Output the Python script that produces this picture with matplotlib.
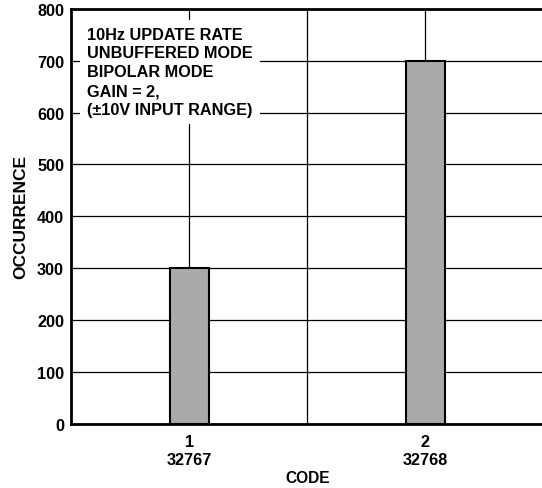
import matplotlib
matplotlib.use("Agg")
import matplotlib.pyplot as plt

# histogram of codes
codes = [1, 2]
code_labels = ["1\n32767", "2\n32768"]
occurrence = [300, 700]
y_ticks = [0, 100, 200, 300, 400, 500, 600, 700, 800]
note_lines = ["10Hz UPDATE RATE", "UNBUFFERED MODE", "BIPOLAR MODE",
              "GAIN = 2,", "(\u00b110V INPUT RANGE)"]

plt.rcParams['font.family'] = ['Liberation Sans', 'DejaVu Sans']
plt.rcParams['font.weight'] = 'bold'
plt.rcParams['font.size'] = 11.7

fig = plt.figure(figsize=(5.42, 4.89), dpi=100)
ax = fig.add_axes([0.131, 0.131, 0.872, 0.849])

ax.bar(codes, occurrence, width=0.165, color='#aaaaaa', edgecolor='black',
       linewidth=1.5, zorder=3)

ax.set_xlim(0.5, 2.5)
ax.set_ylim(0, 800)
ax.set_yticks(y_ticks)
ax.set_xticks(codes)
ax.set_xticklabels(code_labels, linespacing=1.3)
ax.set_xticks([1.5], minor=True)
ax.tick_params(axis='both', which='both', length=0)
ax.tick_params(axis='y', pad=5)
ax.tick_params(axis='x', pad=7)

ax.grid(True, which='both', color='black', linewidth=0.9, zorder=1)
ax.set_axisbelow(True)

for side in ['left', 'bottom', 'top']:
    ax.spines[side].set_linewidth(2)
ax.spines['right'].set_visible(False)

ax.set_xlabel('CODE', fontweight='bold', fontsize=11.2, labelpad=2)
ax.set_ylabel('OCCURRENCE', fontweight='bold', fontsize=12.5, labelpad=6)

ax.text(0.034, 0.957, "\n".join(note_lines), transform=ax.transAxes,
        ha='left', va='top', fontweight='bold', linespacing=1.32, zorder=4,
        bbox=dict(facecolor='white', edgecolor='none', pad=5))

fig.savefig('out.png', dpi=100)
